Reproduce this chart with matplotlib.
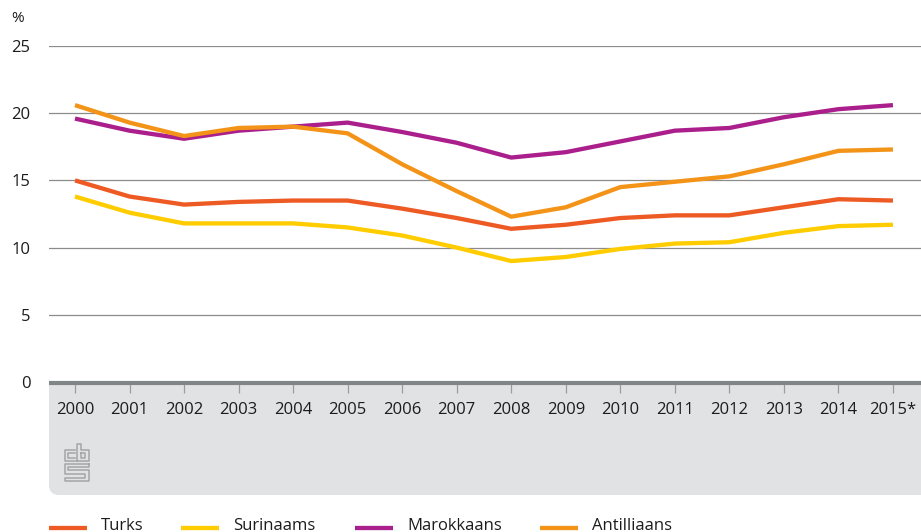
import matplotlib
matplotlib.use('Agg')
import matplotlib.pyplot as plt
from matplotlib.lines import Line2D
from matplotlib.patches import FancyBboxPatch, Rectangle
from matplotlib.transforms import Affine2D

W, H = 921, 532

years = ['2000', '2001', '2002', '2003', '2004', '2005', '2006', '2007',
         '2008', '2009', '2010', '2011', '2012', '2013', '2014', '2015*']
turks = [15.0, 13.8, 13.2, 13.4, 13.5, 13.5, 12.9, 12.2, 11.4, 11.7, 12.2, 12.4, 12.4, 13.0, 13.6, 13.5]
surinaams = [13.8, 12.6, 11.8, 11.8, 11.8, 11.5, 10.9, 10.0, 9.0, 9.3, 9.9, 10.3, 10.4, 11.1, 11.6, 11.7]
marokkaans = [19.6, 18.7, 18.1, 18.7, 19.0, 19.3, 18.6, 17.8, 16.7, 17.1, 17.9, 18.7, 18.9, 19.7, 20.3, 20.6]
antilliaans = [20.6, 19.3, 18.3, 18.9, 19.0, 18.5, 16.2, 14.2, 12.3, 13.0, 14.5, 14.9, 15.3, 16.2, 17.2, 17.3]
y_ticks = [0, 5, 10, 15, 20, 25]

series = [('Turks', turks, '#ee5a24'), ('Surinaams', surinaams, '#ffcc00'),
          ('Marokkaans', marokkaans, '#ab1f8c'), ('Antilliaans', antilliaans, '#f39419')]
legend_x = [49, 181, 355, 540]

TEXT = '#1c1c1c'
GREY = '#e1e2e4'
plt.rcParams['font.family'] = ['Open Sans', 'DejaVu Sans']

fig = plt.figure(figsize=(W / 100, H / 100), dpi=100)

# everything outside the axes is placed in pixels, measured from the top left
px = Affine2D().scale(1 / W, -1 / H).translate(0, 1) + fig.transFigure

# grey panel under the x axis, only the lower corners are rounded
fig.add_artist(FancyBboxPatch((59, 392), 900, 93, boxstyle='round,pad=10,rounding_size=10',
                              fc=GREY, ec='none', transform=px))
fig.add_artist(Rectangle((49, 382), 900, 60, fc=GREY, ec='none', transform=px))

ax = fig.add_axes([49 / W, 1 - 382 / H, (W - 49) / W, (382 - 46) / H], zorder=5)
ax.patch.set_visible(False)
for name, values, color in series:
    ax.plot(range(len(years)), values, color=color, lw=3.1, solid_capstyle='butt',
            solid_joinstyle='round', zorder=3)

ax.set_xlim((49 - 75) / 54.53, (921 - 75) / 54.53)
ax.set_ylim(0, 25)
ax.set_xticks(range(len(years)))
ax.set_xticklabels(years)
ax.set_yticks(y_ticks)
ax.yaxis.grid(True, color='#8c8c8c', lw=0.9)
ax.set_axisbelow(True)
for side in ['top', 'left', 'right']:
    ax.spines[side].set_visible(False)
ax.spines['bottom'].set_color('#808586')
ax.spines['bottom'].set_linewidth(3)
ax.spines['bottom'].set_capstyle('butt')
ax.spines['bottom'].set_position(('outward', 0.7))
ax.spines['bottom'].set_zorder(4)
ax.tick_params(axis='x', length=7.2, width=0.9, color='#9a9c9e', pad=6.5, labelsize=12, labelcolor=TEXT)
ax.tick_params(axis='y', length=0, pad=13.5, labelsize=12, labelcolor=TEXT)

fig.text(11 / W, 1 - 18 / H, '%', fontsize=11, color=TEXT, va='center', ha='left')

# cbs logo
logo = [
    [(75, 449.5), (64.5, 449.5), (64.5, 461), (75, 461)],
    [(75, 453), (68, 453), (68, 457.5), (75, 457.5)],
    [(77, 461), (77, 443.5), (81, 443.5), (81, 449.5), (88.5, 449.5), (88.5, 461), (77, 461)],
    [(81, 453), (85, 453), (85, 457.5), (81, 457.5), (81, 453)],
    [(88.5, 463.5), (64.5, 463.5), (64.5, 473.5), (85, 473.5), (85, 477.5), (64.5, 477.5), (64.5, 481),
     (88.5, 481), (88.5, 470), (68, 470), (68, 466.5), (88.5, 466.5), (88.5, 463.5)],
]
for part in logo:
    xs, ys = zip(*part)
    fig.add_artist(Line2D(xs, ys, color='#a3a5a7', lw=1.1, transform=px))

# legend, runs off the bottom edge like the reference
for (name, values, color), x in zip(series, legend_x):
    fig.add_artist(Line2D([x, x + 38], [528, 528], color=color, lw=3.1, solid_capstyle='butt', transform=px))
    fig.text((x + 52) / W, 1 - 530 / H, name, fontsize=12, color=TEXT, va='baseline', ha='left')

fig.savefig('out.png', dpi=100)
